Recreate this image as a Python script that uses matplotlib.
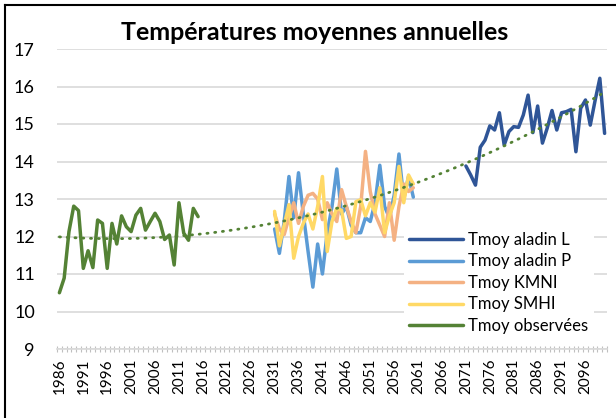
"""
Annual mean temperatures: observed series and model projections.
"""
import numpy as np
import matplotlib
matplotlib.use('Agg')
import matplotlib.pyplot as plt
from matplotlib.lines import Line2D

plt.rcParams['font.family'] = ['Lato', 'DejaVu Sans']

# category axis: one slot per year
years = list(range(1986, 2101))
label_years = years[::5]

# observed series
obs_years = list(range(1986, 2016))
obs = [10.5, 10.89, 12.13, 12.81, 12.69, 11.15, 11.62, 11.17, 12.44, 12.35,
       11.15, 12.35, 11.8, 12.55, 12.26, 12.13, 12.57, 12.75, 12.17, 12.4,
       12.62, 12.4, 11.92, 12.04, 11.24, 12.9, 12.09, 11.9, 12.75, 12.53]

# model projections 2031-2060
mid_years = list(range(2031, 2061))
aladin_p = [12.2, 11.55, 12.4, 13.6, 12.5, 13.7, 12.6, 11.6, 10.65, 11.8,
            11.0, 12.1, 12.8, 13.8, 12.6, 12.8, 12.3, 12.1, 12.1, 12.5,
            12.4, 12.9, 13.9, 12.8, 12.5, 13.1, 14.2, 13.0, 13.6, 13.05]
kmni = [12.6, 12.2, 12.05, 12.5, 12.9, 12.35, 12.8, 13.1, 13.15, 13.0,
        12.45, 12.9, 12.6, 12.4, 13.25, 12.8, 12.4, 12.1, 12.8, 14.27,
        13.2, 12.6, 12.3, 12.0, 12.9, 11.9, 12.8, 13.4, 13.2, 13.3]
smhi = [12.67, 11.75, 12.3, 12.85, 11.42, 12.0, 12.35, 12.6, 12.2, 12.8,
        13.6, 11.6, 12.4, 12.75, 12.7, 11.95, 12.0, 12.93, 12.98, 12.55,
        12.9, 12.65, 13.3, 12.1, 12.55, 12.9, 13.87, 12.9, 13.64, 13.4]

# model projection 2071-2100
late_years = list(range(2071, 2101))
aladin_l = [13.88, 13.64, 13.37, 14.38, 14.57, 14.95, 14.84, 15.3, 14.44, 14.8,
            14.93, 14.91, 15.24, 15.77, 14.77, 15.48, 14.49, 14.89, 15.36, 14.84,
            15.3, 15.33, 15.39, 14.26, 15.42, 15.64, 14.97, 15.62, 16.22, 14.75]

# dotted polynomial trendline, sampled from the chart
trend_years = [1986, 1999, 2019, 2028, 2041, 2051, 2062, 2066, 2073, 2087, 2100]
trend_vals = [11.93, 11.98, 12.17, 12.33, 12.66, 12.99, 13.44, 13.67, 14.04, 14.93, 15.89]

series = [
    ('Tmoy aladin L', late_years, aladin_l, '#2F5597'),
    ('Tmoy aladin P', mid_years, aladin_p, '#5B9BD5'),
    ('Tmoy KMNI', mid_years, kmni, '#F4B183'),
    ('Tmoy SMHI', mid_years, smhi, '#FFD966'),
    ('Tmoy observées', obs_years, obs, '#548235'),
]


def pos(yrs):
    return np.array(yrs) - years[0]


fig = plt.figure(figsize=(6.16, 4.18), dpi=100)
ax = fig.add_axes([57 / 616, 1 - 349 / 418, 550 / 616, 300 / 418])

for name, yrs, vals, color in series:
    ax.plot(pos(yrs), vals, color=color, linewidth=2.5, label=name,
            solid_joinstyle='round', solid_capstyle='round')

# trendline (2nd order polynomial)
coef = np.polyfit(pos(trend_years), trend_vals, 2)
xs = pos(years)
ax.plot(xs, np.polyval(coef, xs), color='#548235', linewidth=2.0,
        linestyle=(0, (0.4, 2.4)), dash_capstyle='round', zorder=4)

ax.set_xlim(-0.5, len(years) - 0.5)
ax.set_ylim(9, 17)
ax.set_yticks(range(9, 18))
ax.tick_params(axis='y', length=0, pad=16, labelsize=13)
ax.grid(axis='y', color='#D9D9D9', linewidth=1.2)
ax.set_axisbelow(True)

ax.set_xticks(pos(label_years))
ax.set_xticklabels([str(y) for y in label_years], rotation=90, fontsize=11)
ax.set_xticks(np.arange(-0.5, len(years)), minor=True)
ax.tick_params(axis='x', which='major', length=0, pad=7)
ax.tick_params(axis='x', which='minor', length=4, width=0.8, color='#BFBFBF', direction='inout')

for side in ['left', 'right', 'top']:
    ax.spines[side].set_visible(False)
ax.spines['bottom'].set_color('#D9D9D9')
ax.spines['bottom'].set_linewidth(1.2)

leg = ax.legend(loc='upper left', bbox_to_anchor=(0.63, 0.41), fontsize=12,
                frameon=True, facecolor='white', edgecolor='none', framealpha=1,
                fancybox=False, borderaxespad=0, handlelength=3.2,
                handletextpad=0.3, labelspacing=0.33, borderpad=0.35)

fig.text(315 / 616, 1 - 33 / 418, 'Températures moyennes annuelles',
         ha='center', va='center', fontsize=18, fontweight='bold')

# outer chart frame (left and top edges visible)
fig.add_artist(Line2D([5 / 616, 5 / 616], [0, 1 - 5 / 418], color='black', linewidth=1.5))
fig.add_artist(Line2D([5 / 616, 1], [1 - 5 / 418, 1 - 5 / 418], color='black', linewidth=1.5))

fig.savefig('out.png', dpi=100)
plt.close(fig)
